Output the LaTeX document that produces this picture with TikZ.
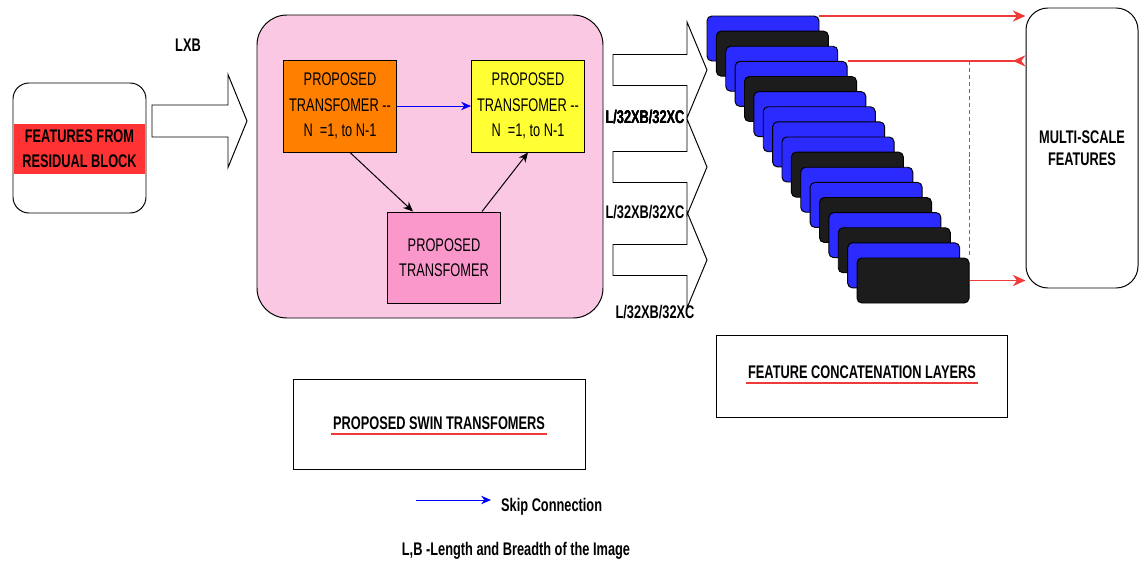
\documentclass[tikz,border=0pt]{standalone}
\usepackage{fontspec}
\setmainfont{Liberation Sans}[FakeStretch=0.7]
\usetikzlibrary{arrows.meta}

\definecolor{bandred}{HTML}{FF3333}
\definecolor{swinpink}{HTML}{FAC8E3}
\definecolor{tforange}{HTML}{FF7F00}
\definecolor{tfyellow}{HTML}{FFFF33}
\definecolor{tfpink}{HTML}{FA98CB}
\definecolor{slabB}{HTML}{2B2BFF}
\definecolor{slabK}{HTML}{1C1C1C}
\definecolor{linkred}{HTML}{F03A3A}

% one picture unit is one pixel
\def\px{0.025cm}

% hollow block arrow: shaft x0--x1, head x1--x2, centre y, half shaft, half head
\newcommand\fatarrow[6]{%
  \draw[fill=white] ({#1},{#4-#5}) -- ({#2},{#4-#5}) -- ({#2},{#4-#6})
    -- ({#3},{#4}) -- ({#2},{#4+#6}) -- ({#2},{#4+#5}) -- ({#1},{#4+#5}) -- cycle;}

\begin{document}
\begin{tikzpicture}[x=\px, y=-\px, line width=0.7pt,
  every node/.style={font=\fontsize{13}{18}\selectfont, align=center},
  tfbox/.style={draw, minimum width=113*\px, minimum height=92*\px, inner sep=1pt},
  slab/.style={draw, rounded corners=0.12cm, minimum width=112*\px, minimum height=45*\px},
  titlebox/.style={draw, minimum width=291*\px},
  redlink/.style={linkred, line width=1.1pt},
  redtip/.style={-{Stealth[length=9pt,width=8pt]}},
  smalltip/.style={-{Stealth[length=7pt,width=6pt]}}]
  \useasboundingbox (0,0) rectangle (1146,566);

  % input block
  \node[draw, rounded corners=0.4cm, minimum width=133*\px, minimum height=130*\px]
    (res) at (79.5,148) {};
  \node[fill=bandred, minimum width=131*\px, minimum height=50*\px, inner sep=0pt]
    (band) at (79.5,149) {\bfseries FEATURES FROM\\\bfseries RESIDUAL BLOCK};

  \fatarrow{152}{228}{247}{121}{16}{46.5}
  \node (lxb) at (188,45) {\bfseries LXB};

  % swin transformer stage
  \node[draw, fill=swinpink, rounded corners=0.75cm, minimum width=346*\px,
    minimum height=303*\px] (swin) at (430,166.5) {};
  \node[tfbox, fill=tforange] (tfa) at (340,106)
    {PROPOSED\\TRANSFOMER -{}-\\N \ =1, to N-1};
  \node[tfbox, fill=tfyellow] (tfb) at (528,106)
    {PROPOSED\\TRANSFOMER -{}-\\N \ =1, to N-1};
  \node[tfbox, fill=tfpink, minimum height=91*\px] (tfc) at (444,257.5)
    {PROPOSED\\TRANSFOMER};
  \draw[blue, smalltip] (tfa.east) -- (tfb.west);
  \draw[smalltip] ([xshift=10*\px]tfa.south) -- ([xshift=-31*\px]tfc.north);
  \draw[smalltip] ([xshift=38*\px]tfc.north) -- (tfb.south);

  % three outputs
  \foreach \yc in {70,167,260}
    \fatarrow{613}{687}{707}{\yc}{15.5}{48}
  \node (outa) at (645,117) {\bfseries L/32XB/32XC};
  \node (outb) at (645,212) {\bfseries L/32XB/32XC};
  \node (outc) at (655,312) {\bfseries L/32XB/32XC};

  % concatenation stack
  \foreach \c [count=\i] in {B,K,B,B,K,B,B,B,B,K,B,B,K,B,K,B,K}
    \node[slab, fill=slab\c] (s\i) at ({763+(\i-1)*9.375},{38.5+(\i-1)*15.125}) {};

  \node[draw, rounded corners=0.55cm, minimum width=112*\px, minimum height=280*\px,
    font=\fontsize{13}{16}\selectfont\bfseries] (ms) at (1082,148)
    {MULTI-SCALE\\FEATURES};

  \draw[redlink, redtip] ([yshift=-0.5*\px]s1.north east) -- ([yshift=-0.5*\px]s1.north east -| ms.west);
  \draw[redlink, {Stealth[length=9pt,width=8pt,reversed]}-] (s4.north east -| ms.west)
    -- (s4.north east);
  \draw[redlink, dash pattern=on 3pt off 2pt] (s17.north east |- s4.north east)
    -- (s17.north east);
  \draw[redlink, redtip] (s17.east) -- (s17.east -| ms.west);

  % captions
  \node[titlebox, minimum height=82*\px] (catbox) at (862,376) {};
  \node[inner xsep=1pt, inner ysep=3pt] (cattitle) at (862,372)
    {\bfseries FEATURE CONCATENATION LAYERS};
  \draw[redlink] (cattitle.south west) -- (cattitle.south east);

  \node[titlebox, minimum width=292*\px, minimum height=90*\px] (swinbox) at (439,424) {};
  \node[inner xsep=1pt, inner ysep=3pt] (swintitle) at (439,423)
    {\bfseries PROPOSED SWIN TRANSFOMERS};
  \draw[redlink] (swintitle.south west) -- (swintitle.south east);

  % legend
  \coordinate (skipa) at (416,500);
  \coordinate (skipb) at (491,500);
  \draw[blue, smalltip] (skipa) -- (skipb);
  \node[anchor=west] (skiptxt) at (496,507) {\bfseries Skip Connection};
  \node (note) at (516,551) {\bfseries L,B -Length and Breadth of the Image};
\end{tikzpicture}
\end{document}
